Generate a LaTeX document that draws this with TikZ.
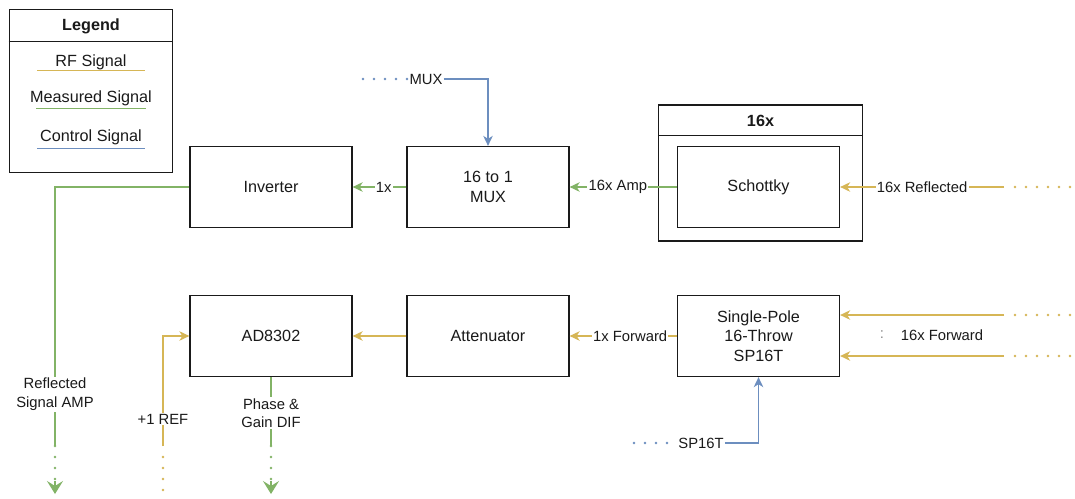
\documentclass[tikz,border=0pt]{standalone}
\usepackage{fontspec}
\setmainfont{Liberation Sans}
\usetikzlibrary{arrows.meta}
\definecolor{rfc}{HTML}{D6B656}
\definecolor{msc}{HTML}{82B366}
\definecolor{ctc}{HTML}{6C8EBF}
\definecolor{ink}{HTML}{1A1A1A}
\newcommand\blkfont{\fontsize{16.2}{19.5}\selectfont}
\newcommand\lblfont{\fontsize{14.8}{18.5}\selectfont}
\tikzset{
  block/.style={draw=ink, line width=1.3pt, minimum width=162pt, minimum height=81pt,
    inner sep=0pt, align=center, font=\blkfont, text=ink},
  lbl/.style={fill=white, inner sep=1.2pt, font=\lblfont, align=center, text=ink},
  rf/.style={draw=rfc, line width=1.3pt},
  ms/.style={draw=msc, line width=1.3pt},
  ct/.style={draw=ctc, line width=1.3pt},
  tip/.style={-{Stealth[length=10pt,width=9.5pt,inset=3pt]}},
  bigtip/.style={-{Stealth[length=13pt,width=16pt,inset=5pt]}},
  dotline/.style={line width=2.6pt, line cap=round, dash pattern=on 0pt off 11pt},
}
\begin{document}
\begin{tikzpicture}[x=1pt, y=-1pt]
\useasboundingbox[fill=white] (0,0) rectangle (1075,498);

% ---- legend ----
\node[draw=ink, line width=1.3pt, minimum width=163.5pt, minimum height=163.5pt, inner sep=0pt] (leg) at (91,91) {};
\draw[draw=ink, line width=1.3pt] ([yshift=-33pt]leg.north west) -- ([yshift=-33pt]leg.north east);
\node[font=\blkfont\bfseries, text=ink] (legt) at (91,26) {Legend};
\node[font=\blkfont, text=ink] (lrf) at (91,62) {RF Signal};
\node[font=\blkfont, text=ink] (lms) at (91,98) {Measured Signal};
\node[font=\blkfont, text=ink] (lct) at (91,137) {Control Signal};
\draw[draw=rfc, line width=0.9pt] (37,70) -- (145,70);
\draw[draw=msc, line width=0.9pt] (36,108) -- (146,108);
\draw[draw=ctc, line width=0.9pt] (37,148) -- (145,148);

% ---- blocks, top row ----
\node[block] (inv) at (271,187) {Inverter};
\node[block] (mux) at (488,187) {16 to 1\\MUX};
\node[draw=ink, line width=1.3pt, minimum width=203.5pt, minimum height=136pt, inner sep=0pt] (grp) at (760.5,173) {};
\draw[draw=ink, line width=1.3pt] ([yshift=-31pt]grp.north west) -- ([yshift=-31pt]grp.north east);
\node[font=\blkfont\bfseries, text=ink] (grpt) at (760.5,121) {16x};
\node[block] (sch) at (758.5,187) {Schottky};

% ---- blocks, bottom row ----
\node[block] (ad) at (271,336) {AD8302};
\node[block] (att) at (488,336) {Attenuator};
\node[block] (sp) at (758.5,336) {Single-Pole\\16-Throw\\SP16T};

% ---- reflected path ----
\coordinate (rin) at (1004,187);
\coordinate (rend) at (1070,187);
\draw[rf, dotline] (rend) -- (rin);
\draw[rf, tip] (rin) -- node[lbl] {16x Reflected} (sch.east);
\draw[ms, tip] (sch.west) -- node[lbl, pos=0.55] {16x Amp} (mux.east);
\draw[ms, tip] (mux.west) -- node[lbl, pos=0.42] {1x} (inv.east);

% inverter output going down
\coordinate (ic) at (55,187);
\coordinate (ie) at (55,446);
\coordinate (id) at (55,481);
\coordinate (it) at (55,494);
\draw[ms] (inv.west) -- (ic) -- node[lbl, pos=0.8] {Reflected\\Signal AMP} (ie);
\draw[ms, dotline] (ie) -- (id);
\draw[ms, bigtip] (id) -- (it);

% ---- MUX control ----
\node[font=\lblfont, text=ink, inner sep=1pt] (muxc) at (426,79) {MUX};
\coordinate (muxd) at (363,79);
\draw[ct, dotline] (muxd) -- (muxc.west);
\draw[ct, tip] (muxc.east) -| (mux.north);

% ---- forward path ----
\coordinate (f1) at (1004,315);
\coordinate (f1e) at (1070,315);
\coordinate (f2) at (1004,356);
\coordinate (f2e) at (1070,356);
\draw[rf, dotline] (f1e) -- (f1);
\draw[rf, dotline] (f2e) -- (f2);
\draw[rf, tip] (f1) -- (sp.east |- f1);
\draw[rf, tip] (f2) -- (sp.east |- f2);
\node[font=\lblfont, text=black!45] (fdots) at (882,335) {:};
\node[font=\lblfont, text=ink] (fl) at (942,335) {16x Forward};

\draw[rf, tip] (sp.west) -- node[lbl, pos=0.435] {1x Forward} (att.east);
\draw[rf, tip] (att.west) -- (ad.east);

% ---- SP16T control ----
\node[font=\lblfont, text=ink, inner sep=1pt] (spc) at (701,443) {SP16T};
\coordinate (spd) at (634,443);
\draw[ct, dotline] (spd) -- (spc.west);
\draw[ct, tip] (spc.east) -| (sp.south);

% ---- reference input ----
\coordinate (rb) at (163,490);
\coordinate (rs) at (163,446);
\coordinate (rl) at (163,419);
\draw[rf, dotline] (rb) -- (rs);
\draw[rf, tip] (rs) -- (rl) node[lbl] {+1 REF} -- (163,336) -- (ad.west);

% ---- phase / gain output ----
\coordinate (pe) at (271,446);
\coordinate (pd) at (271,481);
\coordinate (pt) at (271,494);
\draw[ms] (ad.south) -- node[lbl, pos=0.52] {Phase \&\\Gain DIF} (pe);
\draw[ms, dotline] (pe) -- (pd);
\draw[ms, bigtip] (pd) -- (pt);
\end{tikzpicture}
\end{document}
